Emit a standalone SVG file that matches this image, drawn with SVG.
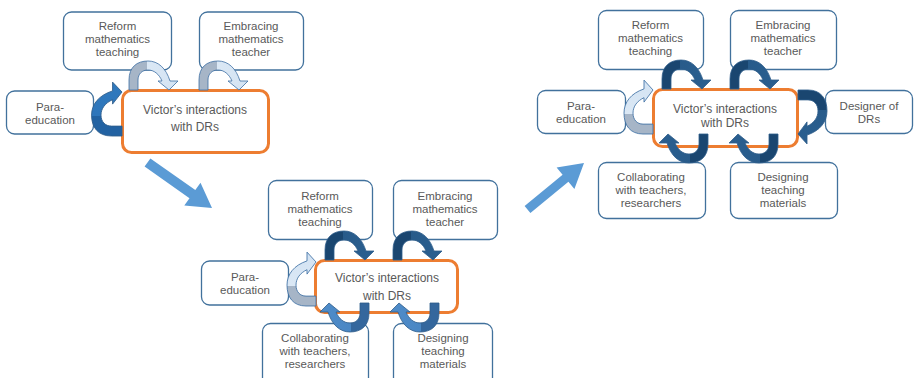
<svg xmlns="http://www.w3.org/2000/svg" xmlns:xlink="http://www.w3.org/1999/xlink" width="914" height="378" viewBox="0 0 914 378">
  <style>
    .box { fill: #ffffff; stroke: #41719c; stroke-width: 1.3; }
    .core { fill: #ffffff; stroke: #ed7d31; stroke-width: 3; }
    .lbl { font-family: "Liberation Sans", Arial, sans-serif; font-size: 11.5px; fill: #595959; text-anchor: middle; }
    .core-lbl { font-size: 12px; }
    .big { fill: #5b9bd5; }
    .ca { stroke: #2f5d8a; stroke-width: 0.8; stroke-linejoin: round; }
    .ca-light { stroke: #3d6fa3; }
  </style>
  <defs>
    <!-- curved arrow: leg at origin, arches over (negative y), head points down at x=40 -->
    <path id="curve" d="M0,0 L0,-10 C0,-23 8,-29 19,-29 C29,-29 37,-22 41,-9 L49,-9 L40,0 L29,-9 L33,-9 C30,-16 25,-20 19,-20 C13,-20 9,-16 9,-10 L9,0 Z"/>
    <linearGradient id="g-light" x1="0" y1="0" x2="1" y2="0">
      <stop offset="0" stop-color="#a6b5c7"/>
      <stop offset="0.37" stop-color="#a6b5c7"/>
      <stop offset="0.37" stop-color="#dbe8f5"/>
      <stop offset="1" stop-color="#d3e3f3"/>
    </linearGradient>
    <linearGradient id="g-navy" x1="0" y1="0" x2="1" y2="0">
      <stop offset="0" stop-color="#1a4670"/>
      <stop offset="0.37" stop-color="#1a4670"/>
      <stop offset="0.37" stop-color="#285b8a"/>
      <stop offset="1" stop-color="#2a5f90"/>
    </linearGradient>
    <linearGradient id="g-mid" x1="0" y1="0" x2="1" y2="0">
      <stop offset="0" stop-color="#34679d"/>
      <stop offset="0.37" stop-color="#34679d"/>
      <stop offset="0.37" stop-color="#4a87c4"/>
      <stop offset="1" stop-color="#4f8cc9"/>
    </linearGradient>
    <linearGradient id="g-strong" x1="0" y1="0" x2="1" y2="0">
      <stop offset="0" stop-color="#2262a2"/>
      <stop offset="0.37" stop-color="#2262a2"/>
      <stop offset="0.37" stop-color="#2e76bb"/>
      <stop offset="1" stop-color="#3079bd"/>
    </linearGradient>
  </defs>

  <!-- ===== Stage 1 ===== -->
  <g id="s1-reform">
    <rect class="box" x="63.5" y="12" width="108" height="58" rx="8"/>
    <text class="lbl" x="117.5" y="30">Reform</text>
    <text class="lbl" x="117.5" y="43">mathematics</text>
    <text class="lbl" x="117.5" y="56">teaching</text>
  </g>
  <g id="s1-embracing">
    <rect class="box" x="199.5" y="12" width="104" height="58" rx="8"/>
    <text class="lbl" x="251" y="30">Embracing</text>
    <text class="lbl" x="251" y="43">mathematics</text>
    <text class="lbl" x="251" y="56">teacher</text>
  </g>
  <g id="s1-para">
    <rect class="box" x="6.5" y="91" width="87" height="43" rx="8"/>
    <text class="lbl" x="50" y="111">Para-</text>
    <text class="lbl" x="50" y="124">education</text>
  </g>
  <g id="s1-victor">
    <rect class="core" x="122.5" y="90.5" width="146" height="62" rx="9"/>
    <text class="lbl core-lbl" x="195" y="114">Victor’s interactions</text>
    <text class="lbl core-lbl" x="195" y="131">with DRs</text>
  </g>

  <!-- ===== Stage 2 ===== -->
  <g id="s2-reform">
    <rect class="box" x="268.5" y="180.5" width="104" height="59" rx="8"/>
    <text class="lbl" x="320" y="200">Reform</text>
    <text class="lbl" x="320" y="213">mathematics</text>
    <text class="lbl" x="320" y="226">teaching</text>
  </g>
  <g id="s2-embracing">
    <rect class="box" x="393.5" y="180.5" width="104" height="59" rx="8"/>
    <text class="lbl" x="445" y="200">Embracing</text>
    <text class="lbl" x="445" y="213">mathematics</text>
    <text class="lbl" x="445" y="226">teacher</text>
  </g>
  <g id="s2-para">
    <rect class="box" x="201.5" y="261" width="87" height="44" rx="8"/>
    <text class="lbl" x="245" y="281">Para-</text>
    <text class="lbl" x="245" y="294">education</text>
  </g>
  <g id="s2-collab">
    <rect class="box" x="262.5" y="323.5" width="106" height="64" rx="8"/>
    <text class="lbl" x="315" y="342">Collaborating</text>
    <text class="lbl" x="315" y="355">with teachers,</text>
    <text class="lbl" x="315" y="368">researchers</text>
  </g>
  <g id="s2-designing">
    <rect class="box" x="393.5" y="323.5" width="99" height="64" rx="8"/>
    <text class="lbl" x="443" y="342">Designing</text>
    <text class="lbl" x="443" y="355">teaching</text>
    <text class="lbl" x="443" y="368">materials</text>
  </g>
  <g id="s2-victor">
    <rect class="core" x="315.5" y="260.5" width="142" height="52" rx="9"/>
    <text class="lbl core-lbl" x="387" y="282">Victor’s interactions</text>
    <text class="lbl core-lbl" x="387" y="300">with DRs</text>
  </g>

  <!-- ===== Stage 3 ===== -->
  <g id="s3-reform">
    <rect class="box" x="598.5" y="10.5" width="105" height="59" rx="8"/>
    <text class="lbl" x="650.5" y="29">Reform</text>
    <text class="lbl" x="650.5" y="42">mathematics</text>
    <text class="lbl" x="650.5" y="55">teaching</text>
  </g>
  <g id="s3-embracing">
    <rect class="box" x="730.5" y="10.5" width="106" height="59" rx="8"/>
    <text class="lbl" x="783" y="29">Embracing</text>
    <text class="lbl" x="783" y="42">mathematics</text>
    <text class="lbl" x="783" y="55">teacher</text>
  </g>
  <g id="s3-para">
    <rect class="box" x="537.5" y="90.5" width="88" height="43" rx="8"/>
    <text class="lbl" x="581" y="110">Para-</text>
    <text class="lbl" x="581" y="123">education</text>
  </g>
  <g id="s3-designer">
    <rect class="box" x="825.5" y="90.5" width="87" height="43" rx="8"/>
    <text class="lbl" x="869" y="110">Designer of</text>
    <text class="lbl" x="869" y="123">DRs</text>
  </g>
  <g id="s3-collab">
    <rect class="box" x="598.5" y="162.5" width="107" height="56" rx="8"/>
    <text class="lbl" x="651" y="181">Collaborating</text>
    <text class="lbl" x="651" y="194">with teachers,</text>
    <text class="lbl" x="651" y="207">researchers</text>
  </g>
  <g id="s3-designing">
    <rect class="box" x="730.5" y="162.5" width="107" height="56" rx="8"/>
    <text class="lbl" x="783" y="181">Designing</text>
    <text class="lbl" x="783" y="194">teaching</text>
    <text class="lbl" x="783" y="207">materials</text>
  </g>
  <g id="s3-victor">
    <rect class="core" x="653.5" y="89.5" width="144" height="57" rx="9"/>
    <text class="lbl core-lbl" x="725" y="113">Victor’s interactions</text>
    <text class="lbl core-lbl" x="725" y="127">with DRs</text>
  </g>

  <!-- ===== Connectors ===== -->
  <g id="connectors">
    <!-- stage transitions -->
    <polygon class="big" points="150.4,158.4 195.3,190.1 200.5,182.8 212,208 184.3,205.6 189.5,198.3 144.6,166.6"/>
    <polygon class="big" points="524.6,206 562.6,174.7 556.6,167.4 584,163 574.4,189 568.4,181.7 530.4,213"/>

    <!-- stage 1 -->
    <use xlink:href="#curve" class="ca ca-light" fill="url(#g-light)" transform="translate(129,90)"/>
    <use xlink:href="#curve" class="ca ca-light" fill="url(#g-light)" transform="translate(199,90)"/>
    <use xlink:href="#curve" class="ca" fill="url(#g-strong)" transform="translate(122,136) rotate(-90) scale(1.1,1.05)"/>

    <!-- stage 2 -->
    <use xlink:href="#curve" class="ca" fill="url(#g-navy)" transform="translate(325,260)"/>
    <use xlink:href="#curve" class="ca" fill="url(#g-navy)" transform="translate(393,260)"/>
    <use xlink:href="#curve" class="ca ca-light" fill="url(#g-light)" transform="translate(316,306) rotate(-90) scale(1.1,1)"/>
    <use xlink:href="#curve" class="ca" fill="url(#g-mid)" transform="translate(369,303) rotate(180)"/>
    <use xlink:href="#curve" class="ca" fill="url(#g-mid)" transform="translate(439,303) rotate(180)"/>

    <!-- stage 3 -->
    <use xlink:href="#curve" class="ca" fill="url(#g-navy)" transform="translate(662,89)"/>
    <use xlink:href="#curve" class="ca" fill="url(#g-navy)" transform="translate(730,89)"/>
    <use xlink:href="#curve" class="ca ca-light" fill="url(#g-light)" transform="translate(653,134) rotate(-90) scale(1.1,1)"/>
    <use xlink:href="#curve" class="ca" fill="url(#g-navy)" transform="translate(798,90) rotate(90) scale(1.1,1)"/>
    <use xlink:href="#curve" class="ca" fill="url(#g-navy)" transform="translate(708,134) rotate(180)"/>
    <use xlink:href="#curve" class="ca" fill="url(#g-navy)" transform="translate(778,134) rotate(180)"/>
  </g>
</svg>
